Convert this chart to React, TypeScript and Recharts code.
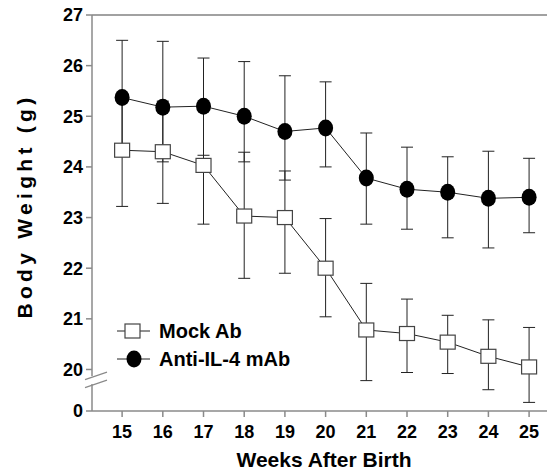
import {
  ErrorBar,
  Legend,
  Line,
  LineChart,
  ReferenceDot,
  ReferenceLine,
  XAxis,
  YAxis,
} from "recharts";

const weeks = [15, 16, 17, 18, 19, 20, 21, 22, 23, 24, 25];

// Anti-IL-4 mAb (filled circles)
const antiMean = [25.37, 25.18, 25.2, 25.0, 24.7, 24.77, 23.78, 23.56, 23.5, 23.38, 23.4];
const antiLow = [1.13, 1.08, 0.97, 0.9, 0.96, 0.77, 0.91, 0.79, 0.9, 0.98, 0.7];
const antiHigh = [1.13, 1.3, 0.95, 1.08, 1.1, 0.91, 0.89, 0.83, 0.7, 0.93, 0.77];

// Mock Ab (open squares)
const mockMean = [24.33, 24.3, 24.03, 23.03, 23.0, 22.0, 20.78, 20.71, 20.54, 20.26, 20.05];
const mockLow = [1.11, 1.02, 1.16, 1.23, 1.1, 0.96, 1.0, 0.77, 0.62, 0.66, 0.7];
const mockHigh = [1.11, 1.0, 1.16, 1.26, 0.92, 0.98, 0.92, 0.68, 0.53, 0.72, 0.78];

const yTicks = [19.18, 20, 21, 22, 23, 24, 25, 26, 27];
const yBreak = 19.79;

const legendItems = [
  { name: "Mock Ab", shape: "square" },
  { name: "Anti-IL-4 mAb", shape: "circle" },
];

const data = weeks.map((w, i) => ({
  week: w,
  anti: antiMean[i],
  antiErr: [antiLow[i], antiHigh[i]],
  mock: mockMean[i],
  mockErr: [mockLow[i], mockHigh[i]],
}));

const FONT = "'Liberation Sans', Arial, Helvetica, sans-serif";
const AXIS = "#8a8a8a";
const INK = "#222";

const Circle = (p: any) => (
  <ellipse key={p.index} cx={p.cx} cy={p.cy} rx={7.5} ry={8.5} fill="#000" />
);
const Square = (p: any) => (
  <rect key={p.index} x={p.cx - 7.5} y={p.cy - 7} width={15} height={14} fill="#fff" stroke="#444" strokeWidth={1.2} />
);

const AxisBreak = (p: any) => (
  <g>
    <rect x={p.cx - 3} y={p.cy - 4} width={6} height={8} fill="#fff" />
    <line x1={p.cx - 7} y1={p.cy - 0.5} x2={p.cx + 15} y2={p.cy - 8} stroke={AXIS} strokeWidth={1.2} />
    <line x1={p.cx - 7} y1={p.cy + 7.5} x2={p.cx + 15} y2={p.cy} stroke={AXIS} strokeWidth={1.2} />
  </g>
);

const LegendBox = () => (
  <svg width={240} height={56} style={{ display: "block" }}>
    {legendItems.map((d, i) => {
      const cy = 13 + i * 28;
      return (
        <g key={d.name}>
          <line x1={7} y1={cy} x2={40} y2={cy} stroke={INK} strokeWidth={1} />
          {d.shape === "square" ? (
            <rect x={15} y={cy - 7} width={15} height={14} fill="#fff" stroke="#444" strokeWidth={1.2} />
          ) : (
            <ellipse cx={24} cy={cy} rx={7.5} ry={8.5} fill="#000" />
          )}
          <text x={49} y={cy + 7} fontFamily={FONT} fontWeight={700} fontSize={20} fill="#000">
            {d.name}
          </text>
        </g>
      );
    })}
  </svg>
);

export default function App() {
  return (
    <div style={{ position: "absolute", left: 0, top: 0, background: "#fff" }}>
      <LineChart width={547} height={474} data={data} margin={{ top: 15, right: 0, left: 0, bottom: 0 }}>
        <XAxis
          type="number"
          dataKey="week"
          domain={[14.26, 25.44]}
          ticks={weeks}
          allowDataOverflow
          height={63}
          stroke={AXIS}
          strokeWidth={1.5}
          tickSize={6}
          tickMargin={8}
          tick={{ fill: "#000", fontFamily: FONT, fontWeight: 700, fontSize: 18 }}
          label={{
            content: () => (
              <text x={324} y={467} textAnchor="middle" fontFamily={FONT} fontWeight={700} fontSize={21} fill="#000">
                Weeks After Birth
              </text>
            ),
          }}
        />
        <YAxis
          type="number"
          domain={[19.18, 27]}
          ticks={yTicks}
          allowDataOverflow
          width={92}
          stroke={AXIS}
          strokeWidth={1.5}
          tickSize={6}
          tickMargin={3}
          tickFormatter={(v: number) => (v < 20 ? "0" : String(v))}
          tick={{ fill: "#000", fontFamily: FONT, fontWeight: 700, fontSize: 18 }}
          label={{
            content: () => (
              <text
                x={24}
                y={206}
                transform="rotate(-90, 24, 206)"
                textAnchor="middle"
                dominantBaseline="central"
                fontFamily={FONT}
                fontWeight={700}
                fontSize={21}
                letterSpacing={4.3}
                fill="#000"
              >
                Body Weight (g)
              </text>
            ),
          }}
        />
        <ReferenceLine y={27} stroke="#444" strokeWidth={1.2} />
        <ReferenceDot x={14.26} y={yBreak} r={0} ifOverflow="visible" shape={AxisBreak} />
        <Line
          dataKey="anti"
          type="linear"
          stroke={INK}
          strokeWidth={1}
          dot={Circle}
          activeDot={false}
          isAnimationActive={false}
        >
          <ErrorBar dataKey="antiErr" direction="y" width={6} stroke={INK} strokeWidth={1} />
        </Line>
        <Line
          dataKey="mock"
          type="linear"
          stroke={INK}
          strokeWidth={1}
          dot={Square}
          activeDot={false}
          isAnimationActive={false}
        >
          <ErrorBar dataKey="mockErr" direction="y" width={6} stroke={INK} strokeWidth={1} />
        </Line>
        <Legend
          layout="vertical"
          align="center"
          verticalAlign="middle"
          wrapperStyle={{ left: 110, top: 318, width: 240 }}
          content={LegendBox}
        />
      </LineChart>
    </div>
  );
}
